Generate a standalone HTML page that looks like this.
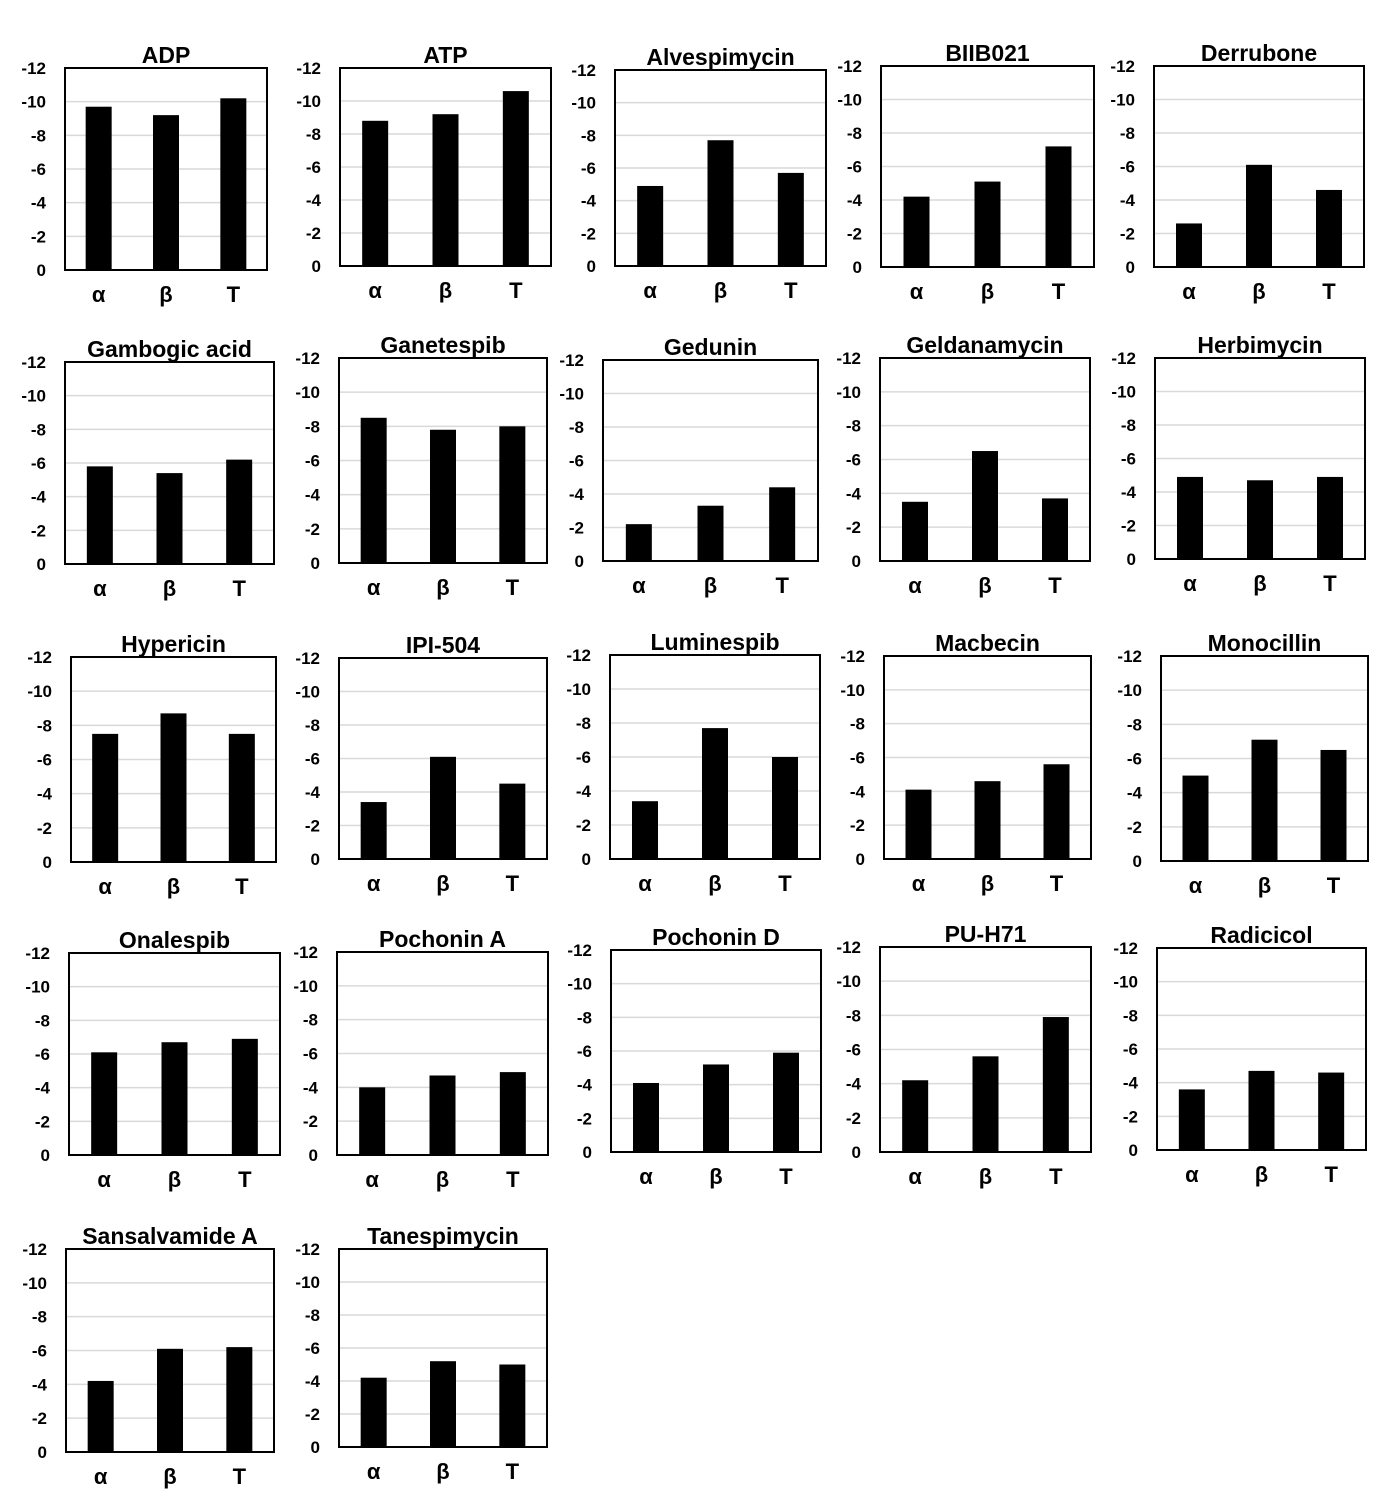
<!DOCTYPE html>
<html><head><meta charset="utf-8"><style>
body{margin:0;background:#fff}
svg text{font-family:"Liberation Sans",Arial,sans-serif;font-weight:bold;fill:#000}
</style></head><body>
<svg id="chart" width="1379" height="1505" xmlns="http://www.w3.org/2000/svg"></svg>
<script>
const titles=["ADP","ATP","Alvespimycin","BIIB021","Derrubone","Gambogic acid","Ganetespib","Gedunin","Geldanamycin","Herbimycin","Hypericin","IPI-504","Luminespib","Macbecin","Monocillin","Onalespib","Pochonin A","Pochonin D","PU-H71","Radicicol","Sansalvamide A","Tanespimycin"];
const categories=["α","β","T"];
const valuesAlpha=[-9.7,-8.8,-4.9,-4.2,-2.6,-5.8,-8.5,-2.2,-3.5,-4.9,-7.5,-3.4,-3.4,-4.1,-5.0,-6.1,-4.0,-4.1,-4.2,-3.6,-4.2,-4.2];
const valuesBeta=[-9.2,-9.2,-7.7,-5.1,-6.1,-5.4,-7.8,-3.3,-6.5,-4.7,-8.7,-6.1,-7.7,-4.6,-7.1,-6.7,-4.7,-5.2,-5.6,-4.7,-6.1,-5.2];
const valuesT=[-10.2,-10.6,-5.7,-7.2,-4.6,-6.2,-8.0,-4.4,-3.7,-4.9,-7.5,-4.5,-6.0,-5.6,-6.5,-6.9,-4.9,-5.9,-7.9,-4.6,-6.2,-5.0];
const tickLabels=["0","-2","-4","-6","-8","-10","-12"];
const tickValues=[0,-2,-4,-6,-8,-10,-12];
// panel boxes [x0,x1,y0,y1] (layout)
const boxes=[[65,267,68,270],[340,551,68,266],[615,826,70,266],[881,1094,66,267],[1154,1364,66,267],
[65,274,362,564],[339,547,358,563],[603,818,360,561],[880,1090,358,561],[1155,1365,358,559],
[71,276,657,862],[339,547,658,859],[610,820,655,859],[884,1091,656,859],[1161,1368,656,861],
[69,280,953,1155],[337,548,952,1155],[611,821,950,1152],[880,1091,947,1152],[1157,1366,948,1150],
[66,274,1249,1452],[339,547,1249,1447]];
const svg=document.getElementById('chart');const NS="http://www.w3.org/2000/svg";
function mk(t,a,p){const e=document.createElementNS(NS,t);for(const k in a)e.setAttribute(k,a[k]);(p||svg).appendChild(e);return e;}
titles.forEach((title,i)=>{
  const [x0,x1,y0,y1]=boxes[i];const w=x1-x0;
  const g=mk('g',{});
  
  
  const yS=v=>y1+(v/-12)*(y0-y1)*-1; // v negative -> up
  const ys=v=>y1-(v/-12)*(y1-y0);
  tickValues.forEach((tv,k)=>{
    const y=ys(tv);
    if(k>0&&k<6){const l=mk('line',{x1:x0,x2:x1,y1:y,y2:y,stroke:'#d9d9d9','stroke-width':1.5},g);
      }
    const t=mk('text',{x:x0-19,y:y+6,'text-anchor':'end','font-size':17},g);t.textContent=tickLabels[k];
    
  });
  const vals=[valuesAlpha[i],valuesBeta[i],valuesT[i]];
  vals.forEach((v,j)=>{
    const cx=x0+w*(2*j+1)/6;const top=ys(v);
    const b=mk('rect',{x:cx-13,y:top,width:26,height:y1-top,fill:'#000'},g);
    
    const t=mk('text',{x:cx,y:y1+32,'text-anchor':'middle','font-size':22},g);t.textContent=categories[j];
    
  });
  const r=mk('rect',{x:x0,y:y0,width:w,height:y1-y0,fill:'none',stroke:'#000','stroke-width':2},g);
  
  const t=mk('text',{x:(x0+x1)/2,y:y0-5,'text-anchor':'middle','font-size':23},g);t.textContent=title;
  
});
</script>
</body></html>
